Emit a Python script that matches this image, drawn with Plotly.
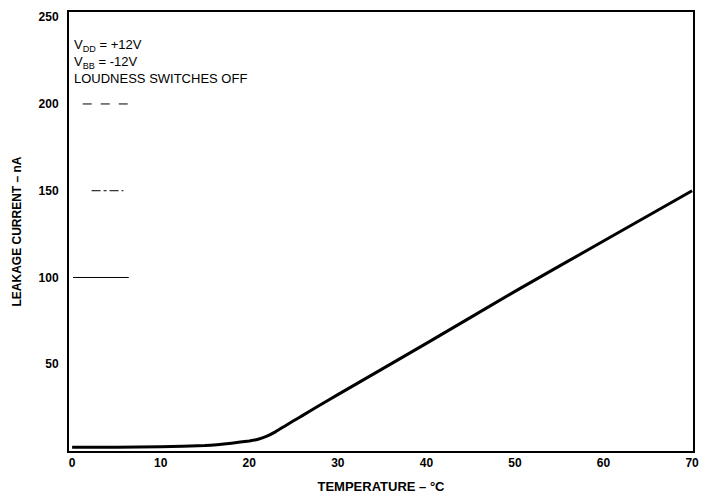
import plotly.graph_objects as go

# Leakage current vs temperature
temp_c = [0, 5, 10, 15, 18, 20, 21, 22, 23, 24, 25, 26, 28, 30, 40, 50, 60, 70]
leak_na = [2.2, 2.2, 2.4, 3.2, 4.5, 5.8, 6.8, 8.6, 11.2, 14.3, 17.4, 20.4, 26.5, 32.5, 62, 92, 121, 150]

x_ticks = [0, 10, 20, 30, 40, 50, 60, 70]
y_ticks = [50, 100, 150, 200, 250]

# Key line samples (legend text lost in the original)
key_levels = [200, 150, 100]
key_dash = ["dash", "dashdot", "solid"]
key_x = [[1.2, 6.8], [2.2, 5.8], [0.1, 6.4]]

FONT = "Liberation Sans"

fig = go.Figure()
fig.add_trace(go.Scatter(x=temp_c, y=leak_na, mode="lines",
                         line=dict(color="black", width=3, shape="spline", smoothing=0.3),
                         showlegend=False, hoverinfo="skip"))
for lvl, d, xs in zip(key_levels, key_dash, key_x):
    fig.add_trace(go.Scatter(x=xs, y=[lvl, lvl], mode="lines",
                             line=dict(color="black", width=1, dash=d),
                             showlegend=False, hoverinfo="skip"))

fig.add_annotation(
    x=0.0, y=240, xref="x", yref="y", xanchor="left", yanchor="top",
    align="left", showarrow=False,
    text="V<sub>DD</sub> = +12V<br>V<sub>BB</sub> = -12V<br>LOUDNESS SWITCHES OFF",
    font=dict(family=FONT, size=13, color="black"),
)

fig.update_layout(
    width=712, height=502,
    margin=dict(l=69, r=19, t=10, b=49),
    paper_bgcolor="white", plot_bgcolor="white",
    font=dict(family=FONT, color="black"),
)
fig.update_xaxes(
    range=[-0.35, 70.1], tickvals=x_ticks, ticktext=[str(v) for v in x_ticks],
    showgrid=False, zeroline=False, showline=True, linecolor="black", linewidth=2,
    mirror=True, ticks="", tickfont=dict(family=FONT, size=12, weight="bold"),
    title=dict(text="TEMPERATURE – °C", font=dict(family=FONT, size=13, weight="bold"), standoff=12),
)
fig.update_yaxes(
    range=[0, 253], tickvals=y_ticks, ticktext=[str(v) for v in y_ticks],
    showgrid=False, zeroline=False, showline=True, linecolor="black", linewidth=2,
    mirror=True, ticks="", tickfont=dict(family=FONT, size=12, weight="bold"),
    ticklabelstandoff=6,
    title=dict(text="LEAKAGE CURRENT – nA", font=dict(family=FONT, size=12, weight="bold"), standoff=14),
)

fig.write_html("out.html")
